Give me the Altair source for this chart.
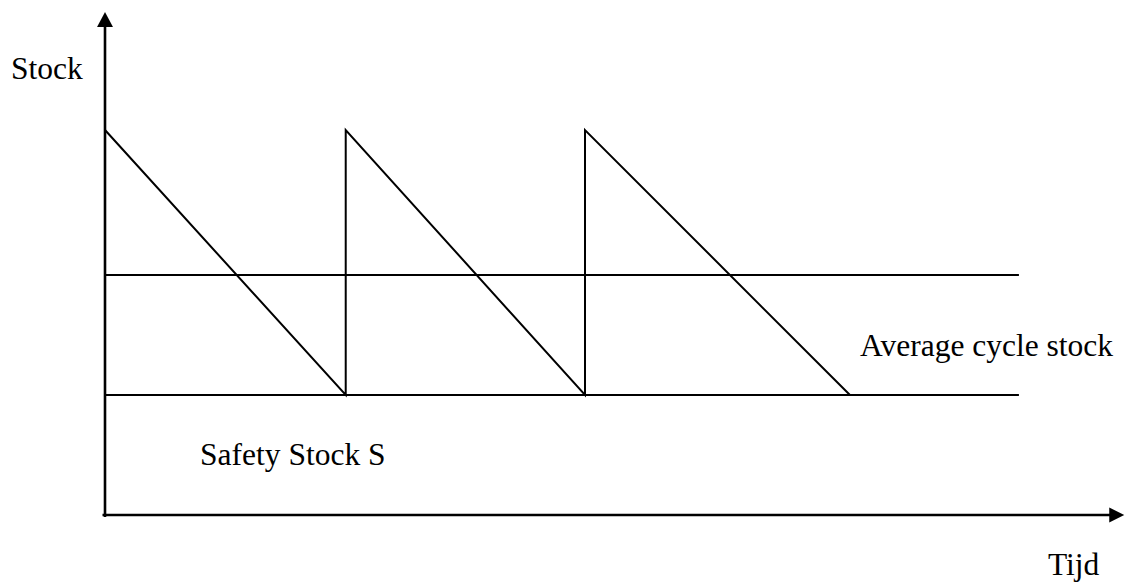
import altair as alt
import pandas as pd

# Sawtooth stock curve (time units, stock units)
saw_t = [0.0, 10.03, 10.03, 20.0, 20.0, 31.04]
saw_s = [32.08, 10.0, 32.08, 10.0, 32.08, 10.0]

# Horizontal reference levels
level_names = ["Average cycle stock", "Safety stock"]
level_values = [20.0, 10.0]
level_start = [0.0, 0.0]
level_end = [38.08, 38.08]

# Axis lines (drawn as arrows)
axis_names = ["x", "y"]
axis_t = [-0.05, 0.0]
axis_t2 = [41.9, 0.0]
axis_s = [0.0, -0.05]
axis_s2 = [0.0, 40.7]

# Arrow tips
tip_names = ["x", "y"]
tip_t = [42.47, 0.0]
tip_s = [0.0, 41.92]

# Text labels
labels = ["Stock", "Average cycle stock", "Safety Stock S", "Tijd"]
label_t = [-3.92, 31.46, 3.96, 39.29]
label_s = [36.33, 13.25, 4.17, -5.0]

W, H = 1117, 576
xs = alt.Scale(domain=[-97 / 24, (W - 97) / 24], nice=False, zero=False)
ys = alt.Scale(domain=[-69 / 12, (H - 69) / 12], nice=False, zero=False)

FONT = "Times New Roman, Liberation Serif, DejaVu Serif, serif"

saw_df = pd.DataFrame({"t": saw_t, "s": saw_s, "order": list(range(len(saw_t)))})
lvl_df = pd.DataFrame({"name": level_names, "s": level_values, "t": level_start, "t2": level_end})
ax_df = pd.DataFrame({"name": axis_names, "t": axis_t, "t2": axis_t2, "s": axis_s, "s2": axis_s2})
tip_df = pd.DataFrame({"name": tip_names, "t": tip_t, "s": tip_s})
lab_df = pd.DataFrame({"label": labels, "t": label_t, "s": label_s})

saw = alt.Chart(saw_df).mark_line(color="black", strokeWidth=2, strokeJoin="miter").encode(
    x=alt.X("t:Q", scale=xs, axis=None),
    y=alt.Y("s:Q", scale=ys, axis=None),
    order="order:Q",
)

levels = alt.Chart(lvl_df).mark_rule(color="black", strokeWidth=2).encode(
    x=alt.X("t:Q", scale=xs, axis=None),
    x2="t2:Q",
    y=alt.Y("s:Q", scale=ys, axis=None),
)

axes = alt.Chart(ax_df).mark_rule(color="black", strokeWidth=2.6, strokeCap="square").encode(
    x=alt.X("t:Q", scale=xs, axis=None),
    x2="t2:Q",
    y=alt.Y("s:Q", scale=ys, axis=None),
    y2="s2:Q",
)

tip_x = alt.Chart(tip_df[tip_df.name == "x"]).mark_point(
    shape="M0,0L-1,-0.5L-1,0.5Z", filled=True, color="black", opacity=1, size=900, strokeWidth=0
).encode(
    x=alt.X("t:Q", scale=xs, axis=None),
    y=alt.Y("s:Q", scale=ys, axis=None),
)

tip_y = alt.Chart(tip_df[tip_df.name == "y"]).mark_point(
    shape="M0,0L0.53,1L-0.53,1Z", filled=True, color="black", opacity=1, size=900, strokeWidth=0
).encode(
    x=alt.X("t:Q", scale=xs, axis=None),
    y=alt.Y("s:Q", scale=ys, axis=None),
)

text = alt.Chart(lab_df).mark_text(
    align="left", baseline="alphabetic", font=FONT, fontSize=31.5, color="black"
).encode(
    x=alt.X("t:Q", scale=xs, axis=None),
    y=alt.Y("s:Q", scale=ys, axis=None),
    text="label:N",
)

chart = alt.layer(levels, saw, axes, tip_x, tip_y, text).properties(
    width=W, height=H, padding=0, autosize=alt.AutoSizeParams(type="none"),
    background="white",
).configure_view(stroke=None)

chart.save("out.html", embed_options={"renderer": "svg", "actions": False})
